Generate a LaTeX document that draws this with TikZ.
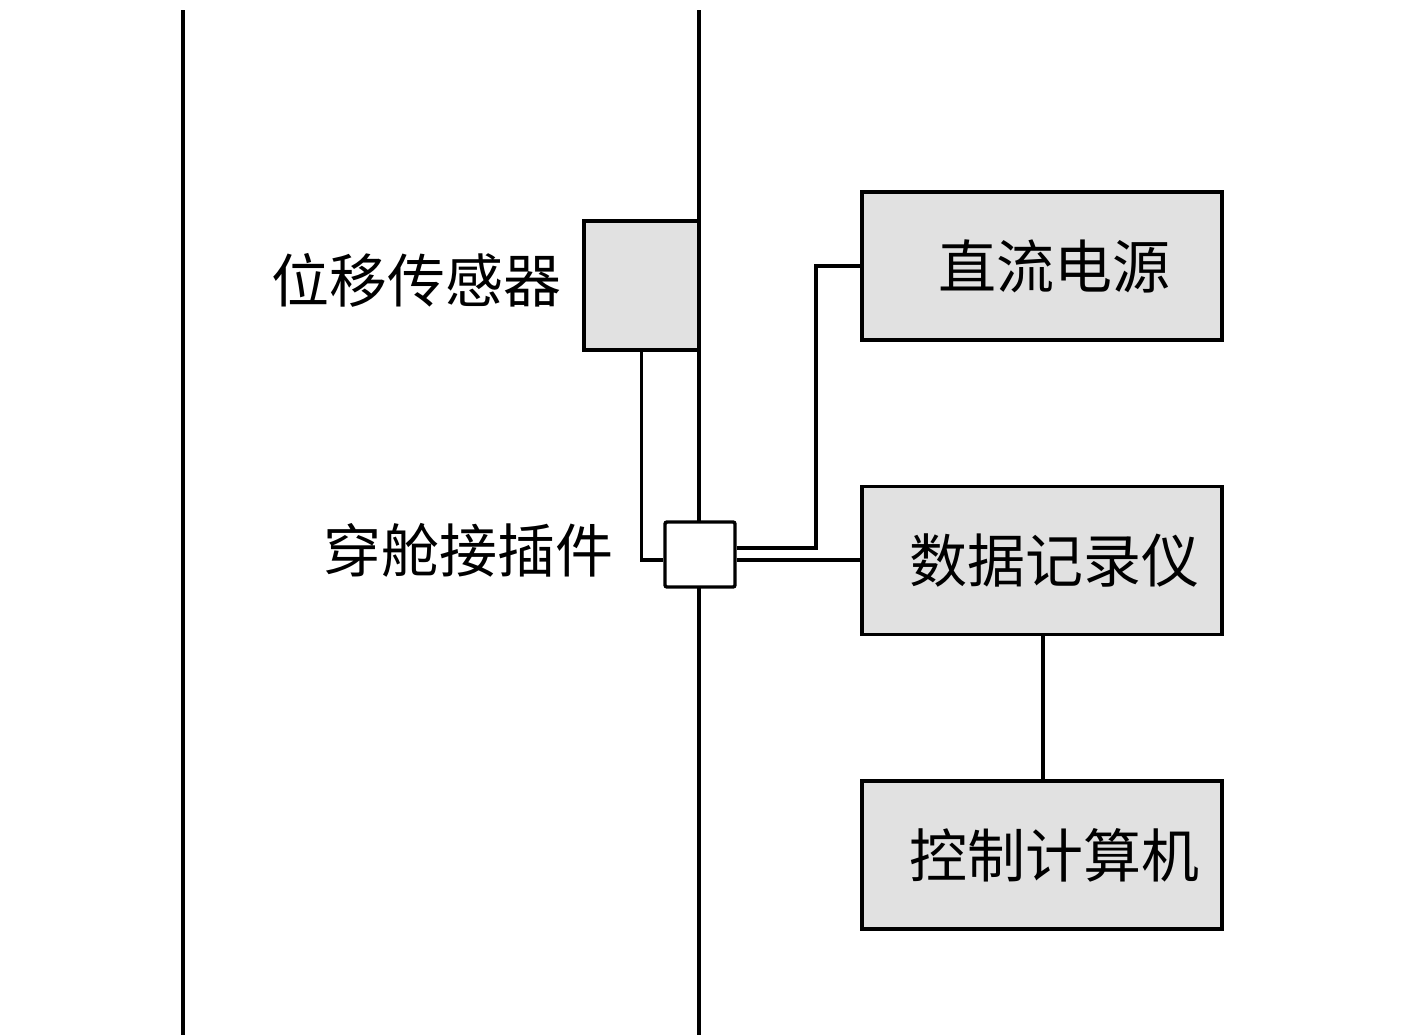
\documentclass[tikz,border=0pt]{standalone}
\usepackage{fontspec}
\newfontfamily\cjk{Noto Sans CJK SC}
\definecolor{boxgray}{HTML}{E1E1E1}
\begin{document}
\begin{tikzpicture}[x=0.5pt,y=-0.5pt,line width=1.7pt,
  blk/.style={draw,fill=boxgray,minimum width=180pt,minimum height=74pt,inner sep=0pt,font=\cjk\fontsize{29pt}{31pt}\selectfont},
  lbl/.style={inner sep=0pt,font=\cjk\fontsize{29pt}{31pt}\selectfont}]
\useasboundingbox (0,0) rectangle (1417,1035);
% walls
\coordinate (lwt) at (183,10);
\coordinate (lwb) at (183,1035);
\coordinate (rwt) at (699,10);
\coordinate (rwb) at (699,1035);
\draw (lwt) -- (lwb);
\draw (rwt) -- (rwb);
% sensor box
\node[draw,fill=boxgray,minimum width=57.5pt,minimum height=64.5pt,inner sep=0pt] (sensor) at (641.5,285.5) {};
% connector box
\node[draw,fill=white,minimum width=35pt,minimum height=32.5pt,inner sep=0pt,rounded corners=1pt] (conn) at (700,554.5) {};
% labels
\node[lbl] (lsensor) at (416,280) {位移传感器};
\node[lbl] (lconn) at (468,550) {穿舱接插件};
% right boxes
\node[blk] (dc) at (1042,266) {\hspace*{12pt}直流电源};
\node[blk] (rec) at (1042,560.5) {\hspace*{12pt}数据记录仪};
\node[blk] (pc) at (1042,855) {\hspace*{12pt}控制计算机};
% connectors
\coordinate (c1) at (641.5,560);
\coordinate (c2) at (816,548);
\coordinate (c3) at (816,266);
\draw (sensor.south) -- (c1) -- (conn.west |- c1);
\draw (conn.east |- c2) -- (c2) -- (c3) -- (dc.west |- c3);
\draw (conn.east |- 0,560) -- (rec.west |- 0,560);
\draw (rec.south -| 1043,0) -- (pc.north -| 1043,0);
\end{tikzpicture}
\end{document}
